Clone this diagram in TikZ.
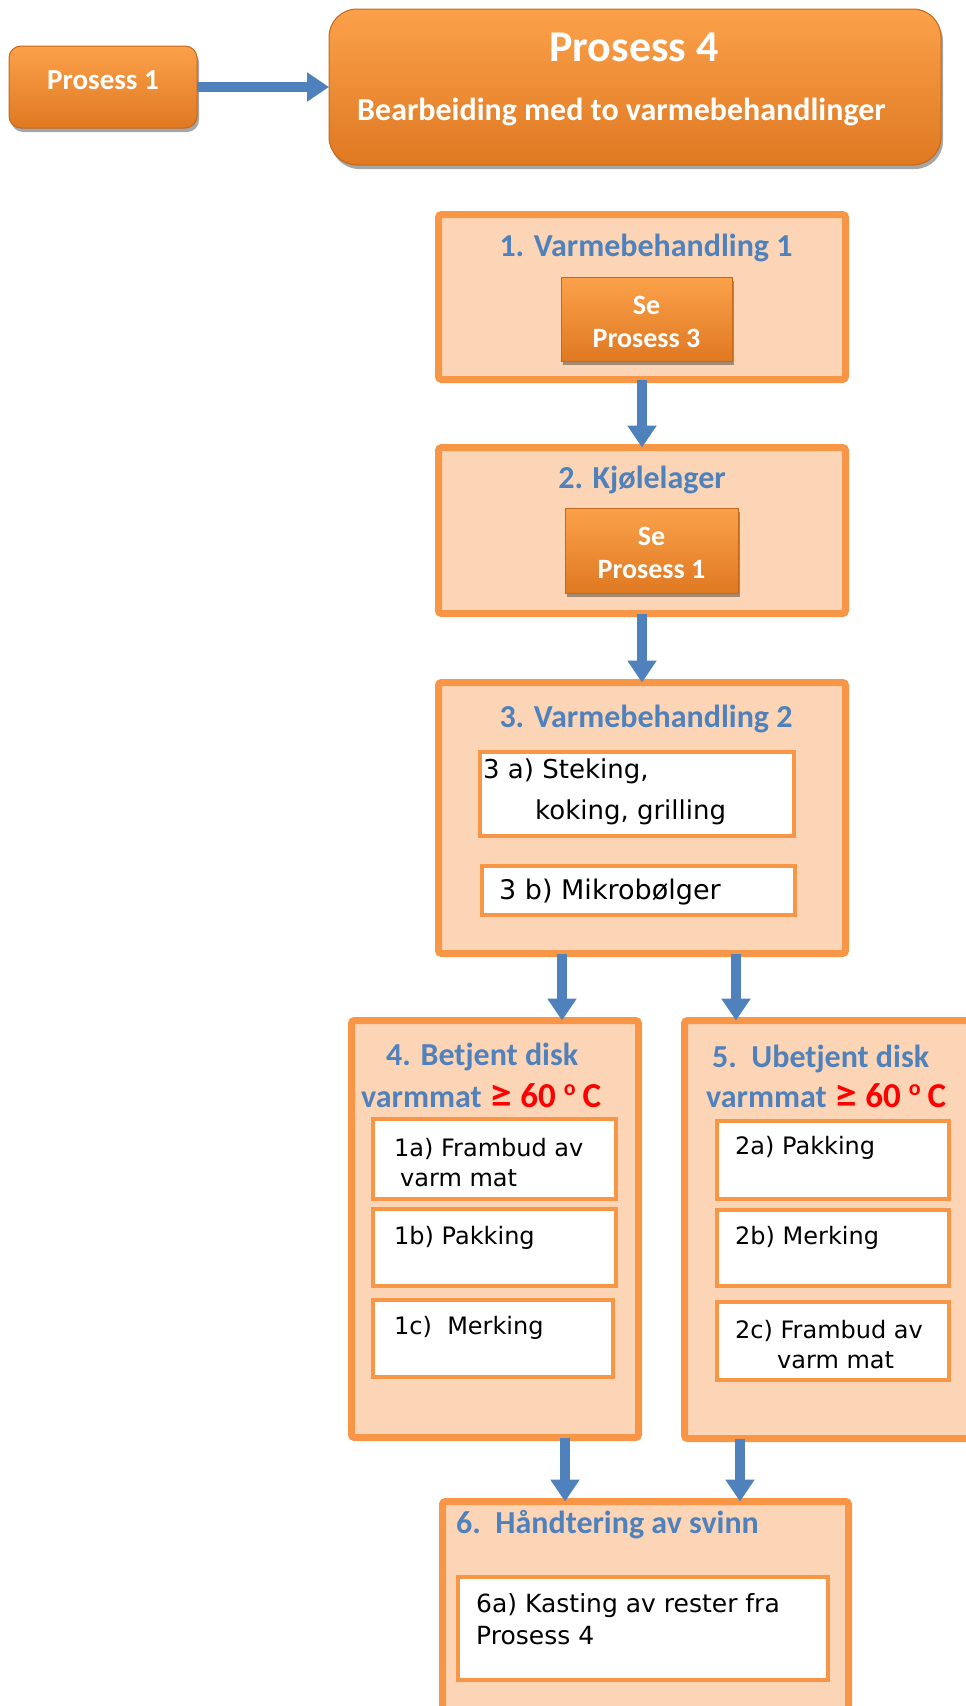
\documentclass[tikz,border=0pt]{standalone}
\usepackage{graphicx}
\usepackage{fontspec}
\setmainfont{DejaVu Sans}
\newfontfamily\hfont{Carlito}
\usetikzlibrary{arrows.meta,shadows}

\definecolor{peach}{HTML}{FBD5B5}
\definecolor{bord}{HTML}{F79646}
\definecolor{hblue}{HTML}{4F81BD}
\definecolor{otop}{HTML}{FBA14A}
\definecolor{obot}{HTML}{DF7922}
\definecolor{oedge}{HTML}{C4661C}

\tikzset{
  stage/.style={draw=bord, fill=peach, line width=7pt, rounded corners=3pt,
    inner sep=0pt, outer sep=0pt, anchor=north west},
  item/.style={draw=bord, fill=white, line width=4.5pt,
    inner sep=0pt, outer sep=0pt, anchor=north west},
  tile/.style={top color=otop, bottom color=obot, draw=oedge, line width=1pt,
    inner sep=0pt, outer sep=0pt, anchor=north west,
    drop shadow={shadow xshift=2pt, shadow yshift=-4pt, opacity=0.35, fill=black}},
  head/.style={text=hblue, font=\hfont\bfseries\fontsize{32}{38}\selectfont, inner sep=0pt},
  tiletext/.style={text=white, font=\hfont\bfseries\fontsize{28}{33}\selectfont,
    inner sep=0pt, align=center},
  body/.style={font=\fontsize{24}{30}\selectfont, inner sep=0pt, anchor=west, align=left},
  flow/.style={draw=hblue, line width=10pt, -{Triangle[length=22pt,width=28pt]}},
}
% red temperature limit with a raised degree "o"
\newcommand{\hot}{{\color{red}\fontsize{35}{38}\selectfont\scalebox{1.3}[1.1]{≥}\hspace{8pt}60\hspace{8pt}\raisebox{0.36em}{\fontsize{22}{22}\selectfont o}\hspace{7pt}C}}

\begin{document}
\begin{tikzpicture}[x=1pt,y=-1pt]
\useasboundingbox (0,0) rectangle (966,1706);

% top row
\node[tile, rounded corners=12pt, minimum width=188pt, minimum height=82pt] (p1) at (9,46) {};
\node[tiletext, font=\hfont\bfseries\fontsize{29}{33}\selectfont] (p1t) at (103,80) {Prosess 1};
\node[tile, rounded corners=28pt, minimum width=612pt, minimum height=156pt] (p4) at (329,9) {};
\node[text=white, font=\hfont\bfseries\fontsize{44}{50}\selectfont, inner sep=0pt] (p4t) at (634,47) {Prosess 4};
\node[text=white, font=\hfont\bfseries\fontsize{32}{38}\selectfont, inner sep=0pt, anchor=west] (p4s) at (357,112) {Bearbeiding med to varmebehandlinger};

% stage 1
\node[stage, minimum width=407pt, minimum height=165pt] (s1) at (438.5,214.5) {};
\node[head] (s1h) at (646,248) {1. Varmebehandling 1};
\node[tile, minimum width=171pt, minimum height=84pt] (se3) at (561,277) {};
\node[tiletext] (se3t) at (646.5,322) {Se\\Prosess 3};

% stage 2
\node[stage, minimum width=407pt, minimum height=166pt] (s2) at (438.5,447.5) {};
\node[head] (s2h) at (642,480) {2. Kjølelager};
\node[tile, minimum width=173pt, minimum height=85pt] (se1) at (565,508) {};
\node[tiletext] (se1t) at (651.5,553) {Se\\Prosess 1};

% stage 3
\node[stage, minimum width=407pt, minimum height=271pt] (s3) at (438.5,682.5) {};
\node[head] (s3h) at (646,719) {3. Varmebehandling 2};
\node[item, minimum width=314pt, minimum height=84pt] (i3a) at (480,752) {};
\node[body, font=\fontsize{26}{41}\selectfont] (i3at) at (483,792) {3 a) Steking,\\\hspace*{52pt}koking, grilling};
\node[item, minimum width=313pt, minimum height=49pt] (i3b) at (482,866) {};
\node[body, font=\fontsize{27}{32}\selectfont] (i3bt) at (499,892) {3 b) Mikrobølger};

% stage 4
\node[stage, minimum width=287pt, minimum height=417pt] (s4) at (351.5,1020.5) {};
\node[head, anchor=west] (s4h) at (386,1057) {4. Betjent disk};
\node[head, anchor=west] (s4v) at (361,1096) {varmmat\hspace{8pt}\hot};
\node[item, minimum width=243pt, minimum height=80pt] (i1a) at (373,1119) {};
\node[body] (i1at) at (394,1163) {1a) Frambud av\\\hspace*{6pt}varm mat};
\node[item, minimum width=243pt, minimum height=77pt] (i1b) at (373,1209) {};
\node[body] (i1bt) at (394,1238) {1b) Pakking};
\node[item, minimum width=240pt, minimum height=77pt] (i1c) at (373,1300) {};
\node[body] (i1ct) at (394,1328) {1c)\ \ Merking};

% stage 5
\node[stage, minimum width=290pt, minimum height=418pt] (s5) at (684.5,1020.5) {};
\node[head, anchor=west] (s5h) at (712,1059) {5.\ \ Ubetjent disk};
\node[head, anchor=west] (s5v) at (706,1096) {varmmat\hspace{8pt}\hot};
\node[item, minimum width=232pt, minimum height=78pt] (i2a) at (717,1121) {};
\node[body] (i2at) at (735,1148) {2a) Pakking};
\node[item, minimum width=232pt, minimum height=76pt] (i2b) at (717,1210) {};
\node[body] (i2bt) at (735,1238) {2b) Merking};
\node[item, minimum width=232pt, minimum height=78pt] (i2c) at (717,1302) {};
\node[body] (i2ct) at (735,1345) {2c) Frambud av\\\hspace*{42pt}varm mat};

% stage 6
\node[stage, minimum width=406pt, minimum height=230pt] (s6) at (442.5,1501.5) {};
\node[head, anchor=west] (s6h) at (456,1525) {6.\ \ Håndtering av svinn};
\node[item, minimum width=370pt, minimum height=103pt] (i6a) at (458,1577) {};
\node[body, font=\fontsize{25}{32}\selectfont] (i6at) at (476,1619) {6a) Kasting av rester fra\\Prosess 4};

% connectors
\coordinate (cl) at (562,0);
\coordinate (cr) at (736,0);
\coordinate (dl) at (565,0);
\coordinate (dr) at (740,0);
\draw[flow] (p1.east) -- (p4.west);
\draw[flow] (s1.south) -- (s2.north);
\draw[flow] (s2.south) -- (s3.north);
\draw[flow] (s3.south -| cl) -- (s4.north -| cl);
\draw[flow] (s3.south -| cr) -- (s5.north -| cr);
\draw[flow] (s4.south -| dl) -- (s6.north -| dl);
\draw[flow] (s5.south -| dr) -- (s6.north -| dr);
\end{tikzpicture}
\end{document}
